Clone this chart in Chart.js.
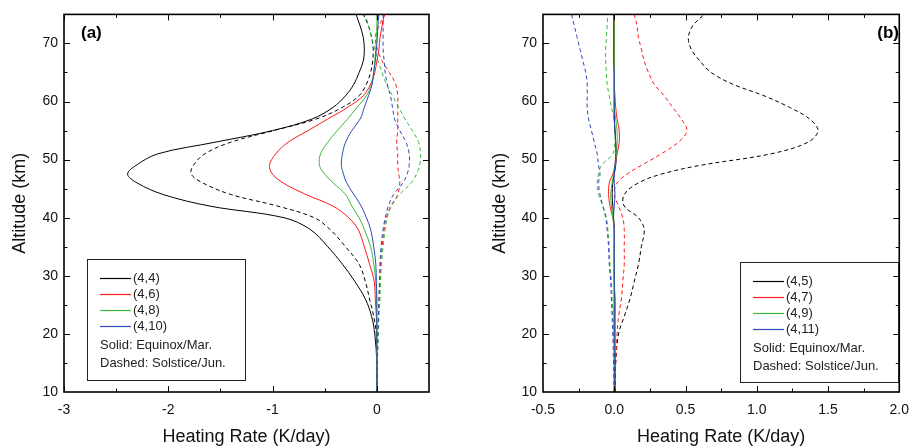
<!DOCTYPE html>
<html>
<head>
<meta charset="utf-8">
<script src="https://cdn.jsdelivr.net/npm/chart.js@4.4.1/dist/chart.umd.min.js"></script>
<style>
  html, body { margin: 0; padding: 0; background: #fff; }
  #wrap { position: relative; width: 919px; height: 448px; }
  #chart-a { position: absolute; left: 0; top: 0; }
  #chart-b { position: absolute; left: 460px; top: 0; }
</style>
</head>
<body>
<div id="wrap">
  <canvas id="chart-a" width="460" height="448"></canvas>
  <canvas id="chart-b" width="459" height="448"></canvas>
</div>
<script>
"use strict";

// altitude grid (km) shared by every profile
const altitudes = [10, 15, 20, 23, 26, 29, 32, 35, 38, 40, 42, 44, 46, 47.5, 49, 51, 53, 55, 57, 59, 61, 63, 65, 67, 69, 71, 73, 75];

// panel (a) heating rates, K/day
const a44Eq  = [0, 0, -0.02, -0.05, -0.11, -0.21, -0.33, -0.47, -0.64, -0.89, -1.6, -2.05, -2.3, -2.39, -2.31, -2.1, -1.55, -1.0, -0.62, -0.42, -0.3, -0.22, -0.17, -0.13, -0.12, -0.13, -0.16, -0.2];
const a46Eq  = [0, 0, 0, -0.005, -0.015, -0.025, -0.07, -0.12, -0.18, -0.27, -0.42, -0.68, -0.9, -1.0, -1.03, -0.97, -0.85, -0.66, -0.47, -0.28, -0.13, -0.06, -0.02, 0, 0.02, 0.03, 0.05, 0.07];
const a48Eq  = [0, 0, 0, 0, -0.005, -0.01, -0.03, -0.06, -0.12, -0.17, -0.24, -0.3, -0.42, -0.5, -0.55, -0.54, -0.47, -0.38, -0.28, -0.19, -0.1, -0.05, -0.03, -0.02, -0.01, -0.005, 0, 0];
const a410Eq = [0, 0, 0, 0, 0, -0.005, -0.01, -0.03, -0.06, -0.1, -0.15, -0.22, -0.29, -0.32, -0.34, -0.33, -0.3, -0.24, -0.16, -0.12, -0.08, -0.045, -0.03, -0.015, -0.005, 0.005, 0.01, 0.02];
const a44Sol  = [0, 0, -0.005, -0.03, -0.07, -0.11, -0.17, -0.3, -0.45, -0.6, -0.95, -1.4, -1.67, -1.78, -1.76, -1.65, -1.4, -0.99, -0.58, -0.33, -0.17, -0.1, -0.06, -0.04, -0.035, -0.05, -0.08, -0.13];
const a46Sol  = [0, 0.005, 0.01, 0.015, 0.02, 0.03, 0.035, 0.05, 0.07, 0.09, 0.14, 0.2, 0.22, 0.21, 0.2, 0.2, 0.19, 0.2, 0.2, 0.2, 0.2, 0.18, 0.12, 0.05, 0.005, -0.015, 0.02, 0.08];
const a48Sol  = [0, 0.005, 0.015, 0.02, 0.03, 0.035, 0.045, 0.06, 0.08, 0.1, 0.13, 0.22, 0.33, 0.38, 0.41, 0.42, 0.4, 0.34, 0.27, 0.21, 0.15, 0.09, 0.05, 0.01, -0.02, -0.05, -0.08, -0.11];
const a410Sol = [0, 0.005, 0.01, 0.015, 0.02, 0.025, 0.03, 0.04, 0.06, 0.08, 0.11, 0.16, 0.25, 0.29, 0.31, 0.31, 0.28, 0.22, 0.17, 0.15, 0.13, 0.1, 0.08, 0.07, 0.06, 0.06, 0.06, 0.06];

// panel (b) heating rates, K/day
const b45Eq  = [0.005, 0.005, 0.005, 0.005, 0.005, 0, 0, 0, 0, -0.005, -0.01, -0.015, -0.01, 0, 0.01, 0.015, 0.01, 0.005, 0, 0, 0, 0, 0, 0, 0, 0, 0, 0];
const b47Eq  = [0.005, 0.005, 0, 0, 0, 0, 0, 0, 0, -0.01, -0.03, -0.04, -0.035, -0.01, 0.005, 0.02, 0.035, 0.035, 0.02, 0.01, 0.005, 0, 0, 0, 0, 0, 0, 0];
const b49Eq  = [0, 0, 0, 0, 0, 0, 0, 0, 0, -0.01, -0.02, -0.025, -0.015, -0.005, 0.005, 0.015, 0.02, 0.02, 0.01, 0, 0, 0, 0, 0, 0, 0, 0, 0];
const b411Eq = [0, 0, 0, 0, 0, 0, 0, 0, 0, -0.005, 0, 0.005, 0, 0, 0.005, 0.01, 0.01, 0.005, 0, 0, 0, 0, 0, -0.005, -0.005, -0.005, -0.005, -0.005];
const b45Sol  = [0.005, 0.01, 0.03, 0.07, 0.11, 0.14, 0.17, 0.19, 0.21, 0.17, 0.07, 0.07, 0.17, 0.33, 0.6, 1.1, 1.36, 1.43, 1.37, 1.23, 1.05, 0.83, 0.68, 0.6, 0.54, 0.52, 0.55, 0.63];
const b47Sol  = [0.005, 0.01, 0.02, 0.03, 0.05, 0.06, 0.07, 0.07, 0.07, 0.06, 0.03, 0, 0.02, 0.09, 0.19, 0.33, 0.45, 0.51, 0.47, 0.41, 0.35, 0.28, 0.24, 0.21, 0.19, 0.17, 0.16, 0.14];
const b49Sol  = [0, 0, -0.005, -0.01, -0.015, -0.02, -0.03, -0.035, -0.045, -0.055, -0.08, -0.11, -0.12, -0.11, -0.09, -0.01, 0.005, 0.005, 0, -0.02, -0.035, -0.05, -0.055, -0.06, -0.06, -0.055, -0.05, -0.045];
const b411Sol = [0, -0.005, -0.01, -0.015, -0.02, -0.025, -0.035, -0.04, -0.05, -0.06, -0.08, -0.1, -0.11, -0.1, -0.11, -0.12, -0.14, -0.16, -0.18, -0.19, -0.19, -0.19, -0.2, -0.22, -0.24, -0.26, -0.28, -0.3];

const labelsA = ["(4,4)", "(4,6)", "(4,8)", "(4,10)"];
const labelsB = ["(4,5)", "(4,7)", "(4,9)", "(4,11)"];
const yTicks = [10, 20, 30, 40, 50, 60, 70];
const xTicksA = [-3, -2, -1, 0];
const xTicksB = [-0.5, 0, 0.5, 1, 1.5, 2];

const colors = ["#000000", "#ff1a1a", "#3cba3c", "#2a4bb8"];
const FONT = "'Liberation Sans', Arial, sans-serif";

const toPoints = (vals) => vals.map((v, i) => ({ x: v, y: altitudes[i] }));

const makeDatasets = (solid, dashed, labels) => {
  const sets = [];
  dashed.forEach((vals, i) => {
    sets.push({
      label: labels[i] + " dashed",
      data: toPoints(vals),
      borderColor: colors[i],
      borderWidth: 1,
      borderDash: [4, 3],
      pointRadius: 0,
      tension: 0.35,
      fill: false,
    });
  });
  solid.forEach((vals, i) => {
    sets.push({
      label: labels[i],
      data: toPoints(vals),
      borderColor: colors[i],
      borderWidth: 1,
      pointRadius: 0,
      tension: 0.35,
      fill: false,
    });
  });
  return sets.reverse();
};

// box + inward ticks on all four sides, panel letter and legend
const framePlugin = {
  id: "frame",
  afterDraw(chart, args, opts) {
    const { ctx, chartArea: ca, scales } = chart;
    const x = scales.x, y = scales.y;
    ctx.save();
    ctx.strokeStyle = "#000";
    ctx.lineWidth = 1.6;
    ctx.strokeRect(ca.left, ca.top, ca.right - ca.left, ca.bottom - ca.top);

    ctx.lineWidth = 1;
    ctx.beginPath();
    opts.xMinor.forEach((v) => {
      const px = Math.round(x.getPixelForValue(v)) + 0.5;
      const len = opts.xMajor.includes(v) ? 6 : 3.5;
      ctx.moveTo(px, ca.bottom); ctx.lineTo(px, ca.bottom - len);
      ctx.moveTo(px, ca.top); ctx.lineTo(px, ca.top + len);
    });
    for (let v = 15; v <= 75; v += 5) {
      const py = Math.round(y.getPixelForValue(v)) + 0.5;
      const len = v % 10 === 0 ? 6 : 3.5;
      ctx.moveTo(ca.left, py); ctx.lineTo(ca.left + len, py);
      ctx.moveTo(ca.right, py); ctx.lineTo(ca.right - len, py);
    }
    ctx.stroke();

    // panel letter
    ctx.fillStyle = "#000";
    ctx.font = "bold 17px " + FONT;
    ctx.textBaseline = "middle";
    ctx.textAlign = opts.letterAlign;
    ctx.fillText(opts.letter, opts.letterX, 33);

    // legend box
    const lg = opts.legend;
    ctx.lineWidth = 1;
    ctx.strokeStyle = "#222";
    ctx.strokeRect(lg.x + 0.5, lg.y + 0.5, lg.w, lg.h);
    ctx.font = "13px " + FONT;
    ctx.textAlign = "left";
    opts.labels.forEach((lab, i) => {
      const ry = lg.y + 19 + i * 16;
      ctx.strokeStyle = colors[i];
      ctx.lineWidth = 1.2;
      ctx.beginPath();
      ctx.moveTo(lg.x + 13, ry + 0.5);
      ctx.lineTo(lg.x + 44, ry + 0.5);
      ctx.stroke();
      ctx.fillStyle = "#222";
      ctx.fillText(lab, lg.x + 46, ry);
    });
    ctx.fillText("Solid: Equinox/Mar.", lg.x + 13, lg.y + 86);
    ctx.fillText("Dashed: Solstice/Jun.", lg.x + 13, lg.y + 104);
    ctx.restore();
  },
};

const makeChart = (canvas, cfg) => {
  return new Chart(canvas, {
    type: "line",
    data: { datasets: makeDatasets(cfg.solid, cfg.dashed, cfg.labels) },
    options: {
      responsive: false,
      animation: false,
      devicePixelRatio: 1,
      layout: { padding: { top: 9, right: cfg.padRight, left: 0, bottom: 0 } },
      plugins: {
        legend: { display: false },
        tooltip: { enabled: false },
        frame: {
          letter: cfg.letter,
          letterX: cfg.letterX,
          letterAlign: cfg.letterAlign,
          legend: cfg.legendBox,
          labels: cfg.labels,
          xMajor: cfg.xTicks,
          xMinor: cfg.xMinor,
        },
      },
      scales: {
        x: {
          type: "linear",
          min: cfg.xMin,
          max: cfg.xMax,
          afterBuildTicks: (scale) => {
            scale.ticks = cfg.xTicks.map((v) => ({ value: v }));
          },
          afterFit: (scale) => { scale.height = 56; },
          grid: { display: false, drawTicks: false },
          border: { display: false },
          ticks: {
            color: "#111",
            padding: 10,
            font: { family: FONT, size: 14 },
            callback: cfg.xFormat,
          },
          title: {
            display: true,
            text: "Heating Rate (K/day)",
            color: "#111",
            font: { family: FONT, size: 18 },
            padding: { top: 0, bottom: 0 },
          },
        },
        y: {
          type: "linear",
          min: 10,
          max: 75,
          afterBuildTicks: (scale) => {
            scale.ticks = yTicks.map((v) => ({ value: v }));
          },
          afterFit: (scale) => { scale.width = cfg.yWidth; },
          grid: { display: false, drawTicks: false },
          border: { display: false },
          ticks: {
            color: "#111",
            padding: 6,
            font: { family: FONT, size: 14 },
          },
          title: {
            display: true,
            text: "Altitude (km)",
            color: "#111",
            font: { family: FONT, size: 18 },
            padding: { top: cfg.yTitlePad, bottom: 0 },
          },
        },
      },
    },
    plugins: [framePlugin],
  });
};

makeChart(document.getElementById("chart-a"), {
  solid: [a44Eq, a46Eq, a48Eq, a410Eq],
  dashed: [a44Sol, a46Sol, a48Sol, a410Sol],
  labels: labelsA,
  xMin: -3, xMax: 0.5,
  xTicks: xTicksA,
  xMinor: [-3, -2.5, -2, -1.5, -1, -0.5, 0],
  xFormat: (v) => String(v),
  padRight: 31,
  yWidth: 64,
  yTitlePad: 9,
  letter: "(a)", letterX: 81, letterAlign: "left",
  legendBox: { x: 87, y: 259, w: 158, h: 121 },
});

makeChart(document.getElementById("chart-b"), {
  solid: [b45Eq, b47Eq, b49Eq, b411Eq],
  dashed: [b45Sol, b47Sol, b49Sol, b411Sol],
  labels: labelsB,
  xMin: -0.5, xMax: 2,
  xTicks: xTicksB,
  xMinor: [-0.25, 0, 0.25, 0.5, 0.75, 1, 1.25, 1.5, 1.75],
  xFormat: (v) => Number(v).toFixed(1),
  padRight: 11,
  yWidth: 83,
  yTitlePad: 29,
  letter: "(b)", letterX: 439, letterAlign: "right",
  legendBox: { x: 280, y: 262, w: 158, h: 120 },
});
</script>
</body>
</html>
